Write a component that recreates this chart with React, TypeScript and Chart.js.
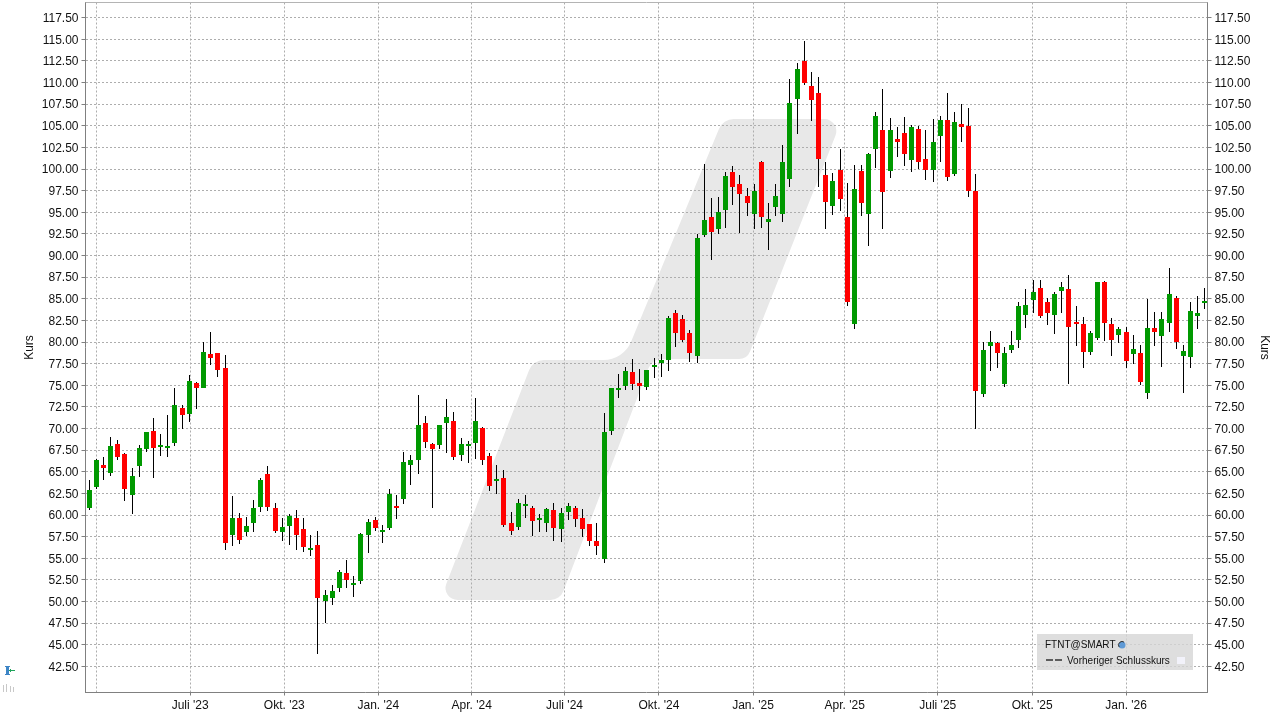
import React, { useEffect, useRef } from "react";
import { Chart, registerables } from "chart.js";

Chart.register(...registerables);

const opens = [
  60.85, 63.28, 65.82, 64.9, 68.25, 67.09, 62.36, 65.71, 67.67, 69.75,
  67.9, 67.79, 68.37, 72.41, 71.72, 75.3, 74.72, 78.65, 78.77, 77.03,
  57.73, 59.7, 58.08, 59.12, 60.97, 64.78, 60.85, 58.08, 58.77, 59.7,
  58.43, 56.0, 56.58, 50.11, 50.45, 51.61, 53.34, 51.96, 52.42, 57.73,
  59.47, 58.08, 58.54, 61.09, 61.89, 65.82, 66.4, 70.68, 68.25, 68.14,
  70.68, 70.91, 66.98, 68.02, 68.37, 70.1, 66.86, 63.98, 64.32, 59.12,
  58.66, 61.09, 60.86, 59.47, 59.12, 60.62, 58.43, 60.39, 60.86, 59.7,
  59.0, 57.04, 54.96, 69.75, 74.49, 74.95, 76.57, 75.3, 74.84, 77.14,
  77.6, 77.94, 83.38, 82.68, 81.06, 78.41, 92.39, 94.47, 93.08, 95.28,
  99.67, 98.28, 96.9, 94.82, 100.83, 93.89, 95.63, 94.82, 98.86, 108.1,
  112.5, 109.61, 108.8, 99.32, 95.74, 99.94, 94.47, 82.1, 99.79, 94.82,
  102.33, 104.52, 99.79, 103.48, 104.18, 101.06, 104.64, 101.12, 99.85, 103.79,
  105.64, 99.39, 105.18, 104.95, 97.42, 74.02, 79.58, 79.93, 75.18, 79.12,
  80.27, 83.17, 84.91, 86.3, 84.68, 83.17, 85.95, 86.18, 82.36, 82.13,
  78.88, 80.51, 86.99, 82.13, 80.85, 81.2, 78.65, 78.77, 74.13, 81.66,
  80.74, 82.24, 85.14, 78.42, 78.3, 83.05, 84.56,
];

const closes = [
  62.93, 66.4, 65.48, 68.02, 66.75, 63.05, 64.55, 67.79, 69.64, 67.79,
  68.14, 68.02, 72.76, 71.6, 75.53, 74.72, 78.88, 78.19, 76.8, 56.81,
  59.7, 57.16, 58.77, 60.85, 64.09, 60.97, 58.2, 58.66, 59.93, 57.73,
  56.35, 56.23, 50.45, 50.8, 51.26, 53.46, 52.53, 52.19, 57.85, 59.24,
  58.54, 58.31, 62.47, 60.86, 66.17, 66.4, 70.45, 68.48, 67.67, 70.45,
  71.37, 66.75, 68.25, 68.25, 70.91, 66.4, 63.4, 64.2, 58.89, 58.2,
  61.43, 61.32, 59.35, 59.7, 60.74, 58.54, 60.28, 61.09, 59.58, 58.43,
  57.04, 56.46, 69.64, 74.72, 74.72, 76.69, 75.18, 74.95, 76.8, 77.37,
  77.94, 82.8, 81.06, 80.26, 78.75, 92.04, 94.12, 92.74, 95.05, 99.21,
  97.94, 97.13, 96.09, 97.47, 94.47, 94.24, 96.9, 100.83, 107.64, 111.57,
  109.96, 107.99, 101.17, 96.2, 98.63, 96.55, 84.65, 97.71, 96.09, 101.75,
  106.14, 97.36, 104.52, 103.14, 101.75, 104.87, 100.83, 99.85, 103.09, 105.64,
  99.04, 105.41, 104.83, 97.42, 74.37, 79.12, 80.04, 78.77, 78.77, 79.7,
  84.21, 84.33, 85.83, 83.05, 83.4, 85.6, 86.41, 81.78, 82.13, 78.88,
  81.08, 86.88, 82.24, 80.27, 81.55, 77.84, 79.23, 75.41, 81.66, 81.2,
  82.71, 85.6, 80.04, 79.0, 83.63, 83.4, 84.79,
];

const highs = [
  64.0, 66.52, 66.75, 69.06, 68.71, 67.21, 65.48, 68.14, 69.64, 71.25,
  69.41, 71.6, 74.72, 72.76, 76.22, 75.42, 80.04, 81.19, 78.77, 78.54,
  62.24, 60.28, 59.81, 61.78, 64.32, 65.71, 61.43, 59.7, 60.16, 60.62,
  59.7, 57.73, 58.2, 51.38, 51.96, 53.69, 54.85, 52.99, 57.96, 59.58,
  59.82, 58.89, 63.05, 62.36, 67.33, 66.98, 73.91, 71.49, 68.37, 70.45,
  73.45, 71.95, 68.94, 68.6, 73.57, 70.22, 67.21, 65.82, 65.25, 60.39,
  61.89, 62.36, 61.09, 60.16, 60.86, 61.43, 60.86, 61.43, 61.09, 60.74,
  59.0, 59.12, 71.83, 74.72, 76.34, 77.15, 78.07, 76.92, 76.8, 78.2,
  78.56, 83.03, 83.72, 83.15, 81.41, 92.5, 100.59, 96.67, 96.78, 99.67,
  100.36, 99.32, 97.82, 98.28, 100.94, 96.09, 98.28, 102.79, 110.42, 112.27,
  114.81, 111.23, 110.65, 100.83, 99.55, 102.33, 98.4, 100.48, 100.48, 101.87,
  106.6, 109.26, 105.91, 104.87, 106.03, 105.1, 104.99, 104.5, 105.76, 106.1,
  108.77, 106.57, 107.49, 107.03, 99.39, 80.04, 81.32, 80.0, 79.46, 81.32,
  84.68, 86.18, 87.22, 87.22, 85.14, 85.83, 86.99, 87.69, 84.21, 82.94,
  81.32, 86.99, 87.11, 82.82, 81.78, 81.78, 80.85, 79.7, 85.02, 83.52,
  83.52, 88.61, 85.37, 79.7, 84.68, 85.37, 86.3,
];

const lows = [
  60.6, 63.05, 64.09, 64.55, 66.4, 61.66, 60.16, 64.44, 67.33, 64.32,
  66.86, 66.75, 68.02, 69.98, 70.79, 72.3, 74.72, 77.38, 75.99, 56.0,
  56.46, 56.69, 57.62, 58.08, 60.39, 60.51, 57.96, 57.04, 56.58, 56.0,
  55.77, 55.31, 43.98, 47.56, 49.65, 51.15, 51.61, 50.57, 52.07, 55.65,
  58.2, 56.81, 58.31, 59.58, 61.32, 63.51, 64.78, 67.79, 60.86, 67.67,
  67.21, 66.4, 66.29, 66.06, 66.52, 65.82, 62.82, 62.47, 58.66, 57.73,
  58.31, 59.7, 57.62, 58.08, 58.08, 57.04, 56.93, 59.47, 58.66, 57.5,
  56.46, 55.42, 54.5, 69.29, 73.57, 74.49, 74.49, 73.22, 74.5, 75.8,
  75.9, 76.7, 79.45, 80.02, 77.71, 77.6, 92.16, 89.5, 92.5, 93.2,
  95.86, 92.62, 94.59, 93.08, 93.2, 90.66, 94.59, 93.89, 97.94, 104.06,
  109.72, 105.56, 97.94, 93.08, 94.7, 95.16, 84.18, 81.53, 94.59, 91.12,
  100.13, 93.08, 98.98, 101.4, 100.36, 99.67, 100.02, 98.75, 98.46, 100.78,
  98.58, 99.15, 103.09, 96.72, 69.96, 73.67, 76.68, 77.03, 74.83, 78.77,
  79.35, 81.66, 83.4, 82.82, 82.01, 80.97, 83.4, 75.18, 79.58, 77.03,
  78.54, 80.27, 80.16, 78.42, 79.93, 77.03, 77.49, 75.06, 73.44, 79.58,
  77.15, 81.2, 79.23, 74.13, 77.03, 81.55, 83.87,
];

const priceTicks = [
  42.5, 45, 47.5, 50, 52.5, 55, 57.5, 60, 62.5, 65, 67.5, 70, 72.5, 75, 77.5, 80,
  82.5, 85, 87.5, 90, 92.5, 95, 97.5, 100, 102.5, 105, 107.5, 110, 112.5, 115, 117.5,
];

const quarterPositions = [1.1, 14.13, 27.29, 40.44, 53.5, 66.47, 79.68, 92.83, 105.65, 118.66, 131.87, 145.0];
const quarterLabels = ["", "Juli '23", "Okt. '23", "Jan. '24", "Apr. '24", "Juli '24", "Okt. '24", "Jan. '25", "Apr. '25", "Juli '25", "Okt. '25", "Jan. '26"];

const GREEN = "#009900";
const RED = "#FF0000";
const FONT = "'Liberation Sans', Arial, sans-serif";

const watermarkCorners: [number, number, number][] = [
  [440, 600, 12],
  [533, 360, 16],
  [623.5, 360, 30],
  [723, 119, 16],
  [842, 119, 12],
  [747, 359, 12],
  [652, 359, 14],
  [560, 600, 14],
];

const watermarkPlugin = {
  id: "watermark",
  beforeDraw(chart: any) {
    const { ctx } = chart;
    const pts = watermarkCorners;
    ctx.save();
    ctx.fillStyle = "#E8E8E8";
    ctx.beginPath();
    const n = pts.length;
    const mx = (pts[0][0] + pts[n - 1][0]) / 2;
    const my = (pts[0][1] + pts[n - 1][1]) / 2;
    ctx.moveTo(mx, my);
    for (let i = 0; i < n; i++) {
      const p = pts[i];
      const q = pts[(i + 1) % n];
      ctx.arcTo(p[0], p[1], q[0], q[1], p[2]);
    }
    ctx.closePath();
    ctx.fill();
    ctx.restore();

    // price labels sit one pixel below their grid lines
    [chart.scales.y, chart.scales.yRight].forEach((scale: any) => {
      scale.getLabelItems(chart.chartArea).forEach((item: any) => {
        if (!item.options.__shifted) {
          item.options.translation[1] += 1;
          item.options.__shifted = true;
        }
      });
    });
  },
};

const snapPlugin = {
  id: "snap",
  beforeDatasetsDraw(chart: any) {
    chart.data.datasets.forEach((_: any, i: number) => {
      chart.getDatasetMeta(i).data.forEach((el: any) => {
        el.x = Math.floor(el.x) + 0.5;
        el.y = Math.round(el.y);
        el.base = Math.round(el.base);
      });
    });
  },
};

const decorPlugin = {
  id: "decor",
  afterDraw(chart: any) {
    const { ctx, chartArea: a } = chart;
    ctx.save();
    // top frame line
    ctx.strokeStyle = "#B4B4B4";
    ctx.lineWidth = 1;
    ctx.beginPath();
    ctx.moveTo(a.left, a.top);
    ctx.lineTo(a.right, a.top);
    ctx.stroke();

    // legend box
    ctx.fillStyle = "rgba(214,214,214,0.8)";
    ctx.fillRect(1037, 634, 156, 36);
    ctx.fillStyle = "#111";
    ctx.font = `10px ${FONT}`;
    ctx.textBaseline = "middle";
    ctx.textAlign = "left";
    ctx.fillText("FTNT@SMART", 1045, 645.5);
    ctx.fillText("Vorheriger Schlusskurs", 1067, 661.5);
    ctx.fillStyle = "#5F9AD6";
    ctx.beginPath();
    ctx.arc(1122, 645, 3.5, 0, Math.PI * 2);
    ctx.fill();
    ctx.strokeStyle = "#333";
    ctx.lineWidth = 1;
    ctx.beginPath();
    ctx.arc(1122, 645, 3.5, Math.PI * 0.8, Math.PI * 1.7);
    ctx.stroke();
    ctx.fillStyle = "#F2F2FA";
    ctx.fillRect(1177, 657, 8, 7);
    ctx.strokeStyle = "#333";
    ctx.lineWidth = 1.5;
    ctx.setLineDash([7, 2]);
    ctx.beginPath();
    ctx.moveTo(1046, 660);
    ctx.lineTo(1064, 660);
    ctx.stroke();
    ctx.setLineDash([]);

    // small tool icons, bottom left
    ctx.fillStyle = "#3D85C6";
    ctx.fillRect(6, 666, 3, 9);
    ctx.fillRect(5, 666, 5, 1);
    ctx.fillRect(5, 674, 5, 1);
    ctx.fillStyle = "#1FA35A";
    ctx.fillRect(9, 670, 6, 1);
    ctx.fillRect(10, 669, 1, 3);
    ctx.fillStyle = "#C8C8C8";
    ctx.fillRect(3, 685, 1, 7);
    ctx.fillRect(6, 684, 1, 8);
    ctx.fillRect(10, 686, 1, 6);
    ctx.fillRect(13, 687, 1, 5);
    ctx.restore();
  },
};

export default function App() {
  const ref = useRef<HTMLCanvasElement>(null);
  useEffect(() => {
    const xs = opens.map((_, i) => i);
    const axisBase = {
      min: 39.48,
      max: 119.25,
      afterBuildTicks(scale: any) {
        scale.ticks = priceTicks.map((value) => ({ value }));
      },
    };
    const tickStyle = {
      autoSkip: false,
      color: "#111",
      padding: 3,
      font: { family: FONT, size: 12 },
      callback: (v: any) => Number(v).toFixed(2),
    };
    const titleStyle = { display: true, text: "Kurs", color: "#111", font: { family: FONT, size: 12 } };
    const chart = new Chart(ref.current as HTMLCanvasElement, {
      type: "bar",
      data: {
        datasets: [
          {
            label: "Docht",
            order: 2,
            data: xs.map((i) => ({ x: i, y: [lows[i], highs[i]] })),
            backgroundColor: "#000000",
            barThickness: 1,
            inflateAmount: 0,
            grouped: false,
            yAxisID: "y",
          },
          {
            label: "FTNT@SMART",
            order: 1,
            data: xs.map((i) => ({ x: i, y: [opens[i], closes[i]] })),
            backgroundColor: xs.map((i) => (closes[i] >= opens[i] ? GREEN : RED)),
            barThickness: 5,
            inflateAmount: 0,
            grouped: false,
            yAxisID: "y",
          },
        ] as any,
      },
      options: {
        animation: false,
        responsive: false,
        devicePixelRatio: 1,
        layout: { padding: { top: 2.5, left: 0, right: 0, bottom: 0 } },
        plugins: { legend: { display: false }, tooltip: { enabled: false } },
        scales: {
          x: {
            type: "linear",
            min: -0.5076,
            max: 156.38,
            offset: false,
            afterBuildTicks(scale: any) {
              scale.ticks = quarterPositions.map((value) => ({ value }));
            },
            afterFit(scale: any) {
              scale.height = 26.5;
              scale.paddingLeft = 0;
              scale.paddingRight = 0;
            },
            grid: {
              offset: false,
              color: "#ADADAD",
              tickColor: (c: any) => (c.index === 0 ? "rgba(0,0,0,0)" : "#808080"),
              tickLength: 3,
              tickBorderDash: [],
            },
            border: { display: true, color: "#808080", width: 1, dash: [2, 2] },
            ticks: {
              autoSkip: false,
              maxRotation: 0,
              color: "#111",
              padding: 3,
              font: { family: FONT, size: 12 },
              callback: (v: any) => {
                const k = quarterPositions.indexOf(Number(v));
                return k >= 0 ? quarterLabels[k] : "";
              },
            },
          },
          y: {
            ...axisBase,
            position: "left",
            afterFit(scale: any) {
              scale.width = 85.5;
              scale.paddingTop = 0;
              scale.paddingBottom = 0;
            },
            grid: { color: "#ADADAD", tickColor: "#808080", tickLength: 4, tickBorderDash: [] },
            border: { display: true, color: "#808080", width: 1, dash: [2, 2] },
            ticks: tickStyle,
            title: { ...titleStyle, padding: { top: 22, bottom: 0 } },
          },
          yRight: {
            ...axisBase,
            position: "right",
            afterFit(scale: any) {
              scale.width = 73.5;
              scale.paddingTop = 0;
              scale.paddingBottom = 0;
            },
            grid: { drawOnChartArea: false, tickColor: "#808080", tickLength: 4 },
            border: { display: true, color: "#808080", width: 1 },
            ticks: tickStyle,
            title: { ...titleStyle, padding: { top: 9, bottom: 0 } },
          },
        },
      } as any,
      plugins: [watermarkPlugin, snapPlugin, decorPlugin],
    } as any);
    return () => chart.destroy();
  }, []);
  return (
    <canvas
      ref={ref}
      width={1281}
      height={719}
      style={{ position: "fixed", left: 0, top: 0, display: "block", background: "#fff" }}
    />
  );
}
